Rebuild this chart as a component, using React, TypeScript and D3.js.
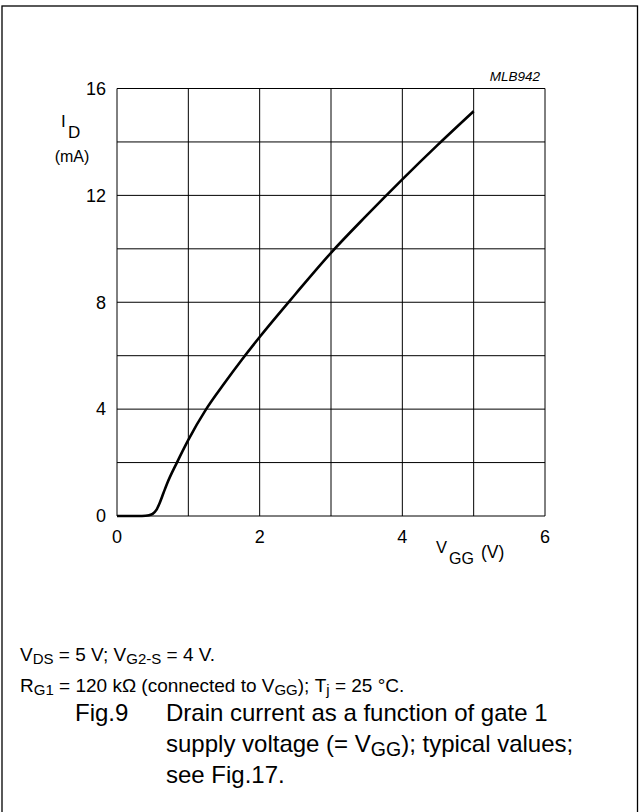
import React from 'react';
import * as d3 from 'd3';

// gate 1 supply voltage (V) vs drain current (mA)
const vgg = [0, 0.3, 0.4, 0.45, 0.5, 0.55, 0.6, 0.65, 0.7, 0.84, 1.0, 1.25, 1.5, 1.75, 2.0, 2.5, 3.0, 3.5, 4.0, 4.5, 5.0];
const idMa = [0, 0, 0.01, 0.03, 0.08, 0.22, 0.5, 0.85, 1.2, 2.0, 2.85, 4.0, 4.95, 5.85, 6.7, 8.3, 9.85, 11.25, 12.6, 13.9, 15.15];

const xTicks = [0, 2, 4, 6];
const yTicks = [0, 4, 8, 12, 16];
const xGrid = [0, 1, 2, 3, 4, 5, 6];
const yGrid = [0, 2, 4, 6, 8, 10, 12, 14, 16];

const W = 639;
const H = 812;
const font = '"Liberation Sans", Arial, sans-serif';

export default function App() {
  const x = d3.scaleLinear().domain([0, 6]).range([117, 545]);
  const y = d3.scaleLinear().domain([0, 16]).range([516, 88.5]);

  const pts = vgg.map((v, i) => [v, idMa[i]] as [number, number]);
  const line = d3.line<[number, number]>()
    .x(d => x(d[0]))
    .y(d => y(d[1]))
    .curve(d3.curveMonotoneX);

  return (
    <svg width={W} height={H} style={{ position: 'absolute', left: 0, top: 0 }} fontFamily={font}>
      <rect x={0} y={0} width={W} height={H} fill="#fff" />
      <rect x={2} y={6} width={635.5} height={H} fill="none" stroke="#000" strokeWidth={1.3} />

      {/* grid */}
      {xGrid.map(v => (
        <line key={'gx' + v} x1={x(v)} x2={x(v)} y1={y(0)} y2={y(16)} stroke="#000" strokeWidth={1} />
      ))}
      {yGrid.map(v => (
        <line key={'gy' + v} x1={x(0)} x2={x(6)} y1={y(v)} y2={y(v)} stroke="#000" strokeWidth={1} />
      ))}

      <path d={line(pts) ?? ''} fill="none" stroke="#000" strokeWidth={2.6} strokeLinejoin="round" />

      {/* tick labels */}
      {yTicks.map(v => (
        <text key={'ty' + v} x={106} y={y(v)} dy="0.35em" textAnchor="end" fontSize={18}>{v}</text>
      ))}
      {xTicks.map(v => (
        <text key={'tx' + v} x={x(v)} y={543} textAnchor="middle" fontSize={18}>{v}</text>
      ))}

      {/* axis titles */}
      <text x={61} y={127} fontSize={17}>I</text>
      <text x={68} y={138} fontSize={17}>D</text>
      <text x={72} y={162} textAnchor="middle" fontSize={16}>(mA)</text>

      <text x={436} y={553} fontSize={16.5}>V</text>
      <text x={449} y={564} fontSize={16}>GG</text>
      <text x={481} y={558} fontSize={17.5}>(V)</text>

      <text x={540} y={81} textAnchor="end" fontSize={13.5} fontStyle="italic">MLB942</text>

      {/* notes */}
      <text x={20} y={661} fontSize={19}>
        V<tspan fontSize={15} dy={3}>DS</tspan><tspan dy={-3}> = 5 V; V</tspan>
        <tspan fontSize={15} dy={3}>G2-S</tspan><tspan dy={-3}> = 4 V.</tspan>
      </text>
      <text x={20} y={692} fontSize={19}>
        R<tspan fontSize={15} dy={3}>G1</tspan><tspan dy={-3}> = 120 kΩ (connected to V</tspan>
        <tspan fontSize={15} dy={3}>GG</tspan><tspan dy={-3}>); T</tspan>
        <tspan fontSize={15} dy={3}>j</tspan><tspan dy={-3}> = 25 °C.</tspan>
      </text>

      {/* caption */}
      <text x={75} y={721} fontSize={24}>Fig.9</text>
      <text x={166} y={721} fontSize={24}>Drain current as a function of gate 1</text>
      <text x={166} y={752} fontSize={24}>
        supply voltage (= V<tspan fontSize={19.5} dy={4}>GG</tspan><tspan dy={-4}>); typical values;</tspan>
      </text>
      <text x={166} y={783} fontSize={24}>see Fig.17.</text>
    </svg>
  );
}
